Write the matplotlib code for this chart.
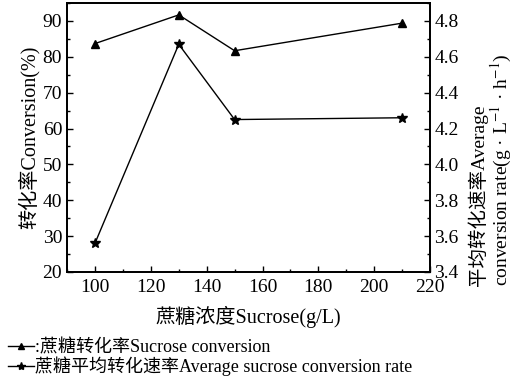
import matplotlib
matplotlib.use("Agg")
import matplotlib.pyplot as plt
from matplotlib.ticker import MultipleLocator
from matplotlib.lines import Line2D

plt.rcParams['font.family'] = ['Liberation Serif', 'Noto Sans CJK SC', 'DejaVu Sans']
plt.rcParams['mathtext.fontset'] = 'stix'

# data
sucrose = [100, 130, 150, 210]
conversion = [83.7, 91.7, 81.7, 89.4]      # %, left axis
avg_rate = [3.56, 4.67, 4.25, 4.26]        # g/(L h), right axis

fig = plt.figure(figsize=(5.2, 3.84), dpi=100)
ax = fig.add_axes([0.129, 0.292, 0.698, 0.700])
ax2 = ax.twinx()

ax.plot(sucrose, conversion, color='black', lw=1.0, marker='^', ms=6)
ax2.plot(sucrose, avg_rate, color='black', lw=1.0, marker='*', ms=7)

ax.set_xlim(90, 220)
ax.set_ylim(20, 95)
ax2.set_ylim(3.4, 4.9)
ax.xaxis.set_major_locator(MultipleLocator(20))
ax.xaxis.set_minor_locator(MultipleLocator(10))
ax.yaxis.set_major_locator(MultipleLocator(10))
ax.yaxis.set_minor_locator(MultipleLocator(5))
ax2.yaxis.set_major_locator(MultipleLocator(0.2))
ax2.yaxis.set_minor_locator(MultipleLocator(0.1))
ax.set_xticks(range(100, 221, 20))

for a in (ax, ax2):
    a.tick_params(which='both', direction='in', labelsize=14, top=False)
    a.tick_params(which='major', length=4, width=1)
    a.tick_params(which='minor', length=2.5, width=1)
    for s in a.spines.values():
        s.set_linewidth(1.3)
ax.tick_params(axis='y', right=False)
ax.tick_params(axis='x', pad=5)
ax2.tick_params(axis='y', pad=3)
ax2.yaxis.set_major_formatter(plt.FuncFormatter(lambda v, p: f"{v:.1f}"))

ax.set_xlabel('蔗糖浓度Sucrose(g/L)', fontsize=14.5, labelpad=7)
ax.set_ylabel('转化率Conversion(%)', fontsize=14.5, labelpad=2)
fig.text(0.944, 0.255, '平均转化速率Average\nconversion rate(g · L$^{-1}$ · h$^{-1}$)',
         fontsize=14, rotation=90, ha='center', va='bottom',
         multialignment='left', linespacing=1.05)

handles = [
    Line2D([], [], color='black', lw=1.0, marker='^', ms=5),
    Line2D([], [], color='black', lw=1.0, marker='*', ms=6),
]
labels = [':蔗糖转化率Sucrose conversion', '蔗糖平均转化速率Average sucrose conversion rate']
fig.legend(handles, labels, loc='upper left', bbox_to_anchor=(-0.005, 0.145),
           frameon=False, fontsize=13, handlelength=1.4, handletextpad=0.1,
           labelspacing=0.0, borderpad=0.1)

fig.savefig('out.png', dpi=100)
